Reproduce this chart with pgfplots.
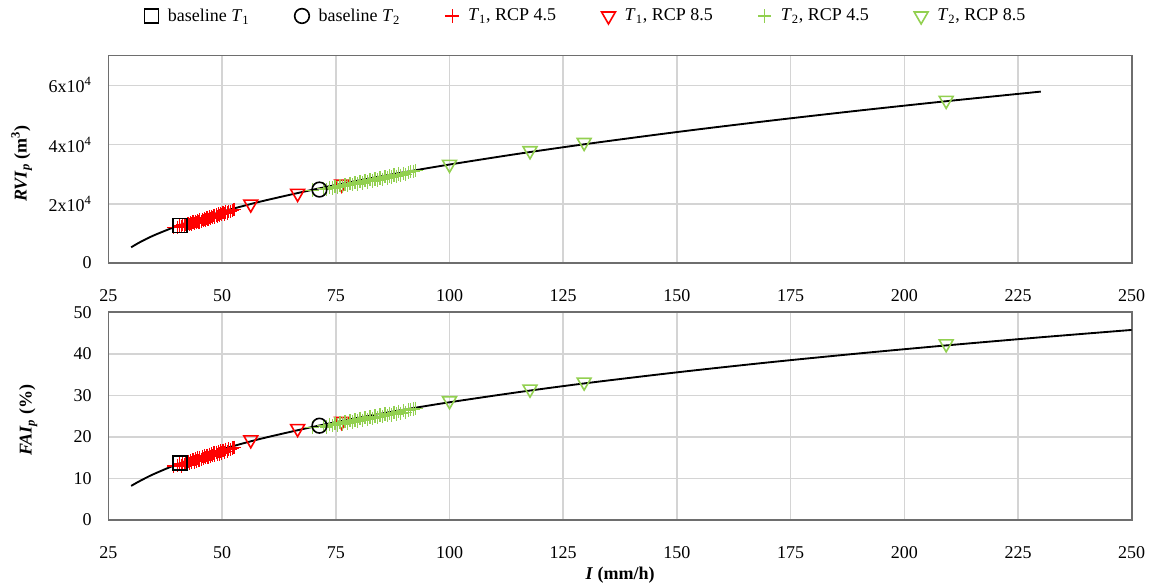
\documentclass[border=0pt]{standalone}
\usepackage{fontspec}
\setmainfont{Liberation Serif}
\usepackage{pgfplots}
\usepackage{pgfplotstable}
\pgfplotsset{compat=1.18}

\definecolor{rcpgreen}{RGB}{146,208,80}
\definecolor{framegray}{RGB}{110,110,110}
\definecolor{gridgray}{RGB}{212,212,212}

% columns: I (mm/h), RVIp (m3), FAIp (%)
\pgfplotstableread{
x rvi fai
39.3 11900 13.0
40.2 12100 13.1
40.6 12500 13.5
41.0 12300 13.0
41.3 12900 13.6
41.7 12600 13.3
42.0 13100 13.9
42.2 12700 13.4
42.5 13300 14.1
42.8 13000 13.6
43.0 13500 14.3
43.3 13200 13.8
43.6 13800 14.5
43.9 13400 14.0
44.1 14000 14.7
44.4 13600 14.2
44.6 14200 14.9
44.9 13900 14.4
45.1 14500 15.0
45.4 14100 14.6
45.7 14700 15.3
45.9 14300 14.8
46.2 14900 15.4
46.4 14500 15.0
46.7 15200 15.6
46.9 14800 15.1
47.2 15500 15.8
47.4 15000 15.3
47.7 15700 15.9
47.9 15300 15.5
48.2 16000 16.1
48.4 15500 15.6
48.7 16200 16.3
48.9 15800 15.8
49.2 16500 16.5
49.4 16000 15.9
49.7 16700 16.6
49.9 16300 16.1
50.2 17000 16.8
50.5 16600 16.3
50.8 17200 17.0
51.1 16900 16.5
51.4 17500 17.1
51.8 17300 16.9
52.2 17800 17.3
52.6 18100 17.5
}\tonefour

\pgfplotstableread{
x rvi fai
56.3 19900 19.3
66.6 23500 22.0
76.3 26600 23.7
}\toneeight

\pgfplotstableread{
x rvi fai
69.8 24600 22.3
72.3 25100 22.7
73.0 24900 22.4
73.6 25500 23.0
74.2 25300 22.7
74.8 25900 23.2
75.3 25500 22.9
75.9 26200 23.5
76.4 25800 23.1
77.0 26500 23.7
77.5 26100 23.3
78.1 26800 23.9
78.6 26400 23.6
79.2 27100 24.1
79.7 26700 23.8
80.3 27500 24.4
80.8 27000 24.0
81.4 27800 24.6
81.9 27400 24.2
82.5 28100 24.8
83.0 27700 24.4
83.6 28400 25.0
84.1 28000 24.7
84.7 28700 25.3
85.2 28300 24.9
85.8 29100 25.5
86.3 28700 25.1
86.8 29400 25.7
87.3 29000 25.3
87.8 29700 25.9
88.3 29300 25.5
88.8 30000 26.1
89.3 29600 25.7
89.8 30200 26.3
90.3 29900 25.9
90.9 30500 26.5
91.4 30800 26.6
92.0 31000 26.7
92.6 31200 26.9
}\ttwofour

\pgfplotstableread{
x rvi fai
100.0 33300 28.7
117.7 37900 31.5
129.6 40700 33.2
209.2 54900 42.4
}\ttwoeight

\pgfplotstableread{
x rvi fai
40.7 12600 13.7
}\baseone

\pgfplotstableread{
x rvi fai
71.4 24800 22.7
}\basetwo

% fitted curves
\pgfplotstableread{
x rvi
30 5300
32 7080
35 9330
40 12420
45 15030
50 17330
55 19400
60 21310
70 24760
80 27840
90 30650
100 33250
115 36850
130 40160
150 44220
170 47960
190 51460
210 54750
230 57870
}\rvicurve

\pgfplotstableread{
x fai
30 8.21
32 9.44
35 11.07
40 13.37
45 15.32
50 17.02
55 18.56
60 19.95
70 22.43
80 24.61
90 26.56
100 28.34
115 30.75
130 32.93
150 35.54
170 37.92
190 40.09
210 42.10
230 43.98
250 45.75
}\faicurve

\pgfplotsset{
  panel/.style={
    scale only axis,
    width=767.5pt,
    xmin=25, xmax=250,
    xtick={25,50,...,250},
    grid=major,
    major grid style={gridgray, line width=1.1pt},
    axis line style={framegray, line width=1.2pt},
    major tick length=0pt,
    tick label style={font=\fontsize{13.5}{16}\selectfont},
    label style={font=\fontsize{13.5}{16}\selectfont},
    /pgf/number format/assume math mode=true,
    xticklabel style={anchor=base, yshift=-28.5pt},
    yticklabel style={xshift=-9pt},
    scaled y ticks=false,
  },
  p14/.style={only marks, mark=+, mark size=5pt, line width=0.9pt},
  p85/.style={only marks, mark=triangle, mark size=6pt, line width=1.2pt,
    mark options={rotate=180}},
}

\begin{document}
\begin{tikzpicture}
\useasboundingbox (0pt,0pt) rectangle (861.75pt,-439.5pt);

\begin{axis}[panel,
  at={(81.3pt,-197.25pt)}, anchor=south west,
  height=155.5pt,
  ymin=0, ymax=70000,
  ytick={0,20000,40000,60000},
  yticklabels={0, 2x10\textsuperscript{4}, 4x10\textsuperscript{4}, 6x10\textsuperscript{4}},
  ylabel={\textbf{\textit{RVI}\textsubscript{\textit{p}} (m\textsuperscript{3})}},
  ylabel style={at={(axis description cs:-0.0847,0.48)}, anchor=center},
  legend columns=6,
  legend cell align=left,
  legend style={at={(0.467,1.1915)}, anchor=center, draw=none, fill=none,
    font=\fontsize{13.5}{16}\selectfont,
    /tikz/every odd column/.append style={column sep=5pt},
    /tikz/every even column/.append style={column sep=32pt}},
]
\addplot[p14, red, forget plot] table[x=x, y=rvi] {\tonefour};
\addplot[p85, red, forget plot] table[x=x, y=rvi] {\toneeight};
\addplot[p14, rcpgreen, forget plot] table[x=x, y=rvi] {\ttwofour};
\addplot[p85, rcpgreen, forget plot] table[x=x, y=rvi] {\ttwoeight};
\addplot[only marks, mark=square, mark size=5.25pt, line width=1.2pt, black, forget plot] table[x=x, y=rvi] {\baseone};
\addplot[only marks, mark=o, mark size=5.5pt, line width=1.2pt, black, forget plot] table[x=x, y=rvi] {\basetwo};
\addplot[black, line width=1.4pt, smooth, forget plot] table[x=x, y=rvi] {\rvicurve};

\addlegendimage{only marks, mark=square, mark size=5.25pt, line width=1.2pt, black}
\addlegendentry{baseline \textit{T}\textsubscript{1}}
\addlegendimage{only marks, mark=o, mark size=5.5pt, line width=1.2pt, black}
\addlegendentry{baseline \textit{T}\textsubscript{2}}
\addlegendimage{p14, red}
\addlegendentry{\textit{T}\textsubscript{1}, RCP 4.5}
\addlegendimage{p85, red}
\addlegendentry{\textit{T}\textsubscript{1}, RCP 8.5}
\addlegendimage{p14, rcpgreen}
\addlegendentry{\textit{T}\textsubscript{2}, RCP 4.5}
\addlegendimage{p85, rcpgreen}
\addlegendentry{\textit{T}\textsubscript{2}, RCP 8.5}
\end{axis}

\begin{axis}[panel,
  at={(81.3pt,-390pt)}, anchor=south west,
  height=155.8pt,
  ymin=0, ymax=50,
  ytick={0,10,...,50},
  ylabel={\textbf{\textit{FAI}\textsubscript{\textit{p}} (\%)}},
  ylabel style={at={(axis description cs:-0.0783,0.48)}, anchor=center},
  xlabel={\textbf{\textit{I} (mm/h)}},
  xlabel style={at={(axis description cs:0.5,-0.265)}, anchor=center},
]
\addplot[p14, red] table[x=x, y=fai] {\tonefour};
\addplot[p85, red] table[x=x, y=fai] {\toneeight};
\addplot[p14, rcpgreen] table[x=x, y=fai] {\ttwofour};
\addplot[p85, rcpgreen] table[x=x, y=fai] {\ttwoeight};
\addplot[only marks, mark=square, mark size=5.25pt, line width=1.2pt, black] table[x=x, y=fai] {\baseone};
\addplot[only marks, mark=o, mark size=5.5pt, line width=1.2pt, black] table[x=x, y=fai] {\basetwo};
\addplot[black, line width=1.4pt, smooth] table[x=x, y=fai] {\faicurve};
\end{axis}
\end{tikzpicture}
\end{document}
